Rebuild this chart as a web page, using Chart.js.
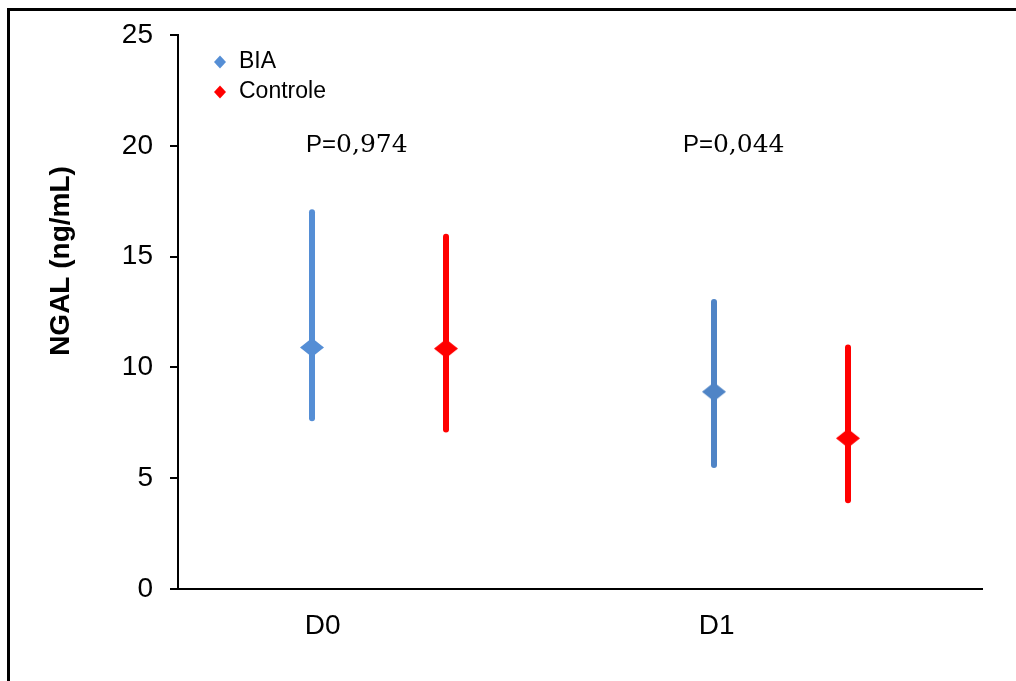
<!DOCTYPE html>
<html><head><meta charset="utf-8">
<script src="https://cdn.jsdelivr.net/npm/chart.js@4.4.0/dist/chart.umd.min.js"></script>
<style>
html,body{margin:0;padding:0;background:#fff;}
#wrap{position:relative;width:1016px;height:681px;overflow:hidden;background:#fff}
#frame{position:absolute;left:7px;top:8px;width:1100px;height:800px;border-left:3px solid #000;border-top:3px solid #000;pointer-events:none}
canvas{position:absolute;left:0;top:0}
</style></head><body>
<div id="wrap"><canvas id="c" width="1016" height="681" style="width:1016px;height:681px"></canvas><div id="frame"></div></div>
<script>
// ---- data ----
const categories = ['D0', 'D1'];
const seriesNames = ['BIA', 'Controle'];
const biaMean = [10.9, 8.9];
const biaLow = [7.7, 5.6];
const biaHigh = [17.0, 12.95];
const ctrlMean = [10.85, 6.8];
const ctrlLow = [7.2, 4.0];
const ctrlHigh = [15.9, 10.9];
const pLabels = ['P=0,974', 'P=0,044'];
const yTickValues = [0, 5, 10, 15, 20, 25];
const yTitle = 'NGAL (ng/mL)';

// ---- styling / layout (not data) ----
const BLUE = ['#558ED5', '#4F84C6'];
const RED = '#FF0000';
const SANS = '"Liberation Sans", Arial, sans-serif';
const SERIF = '"DejaVu Serif", serif';
const groupOffset = 1 / 3;
const labelAt = [0.72, 2.68];       // x-axis label anchor (axis units)
const pAt = [{x: 0.637, y: 19.7}, {x: 2.512, y: 19.7}];

function diamond(color, w, h) {
  const c = document.createElement('canvas');
  c.width = w; c.height = h;
  const g = c.getContext('2d');
  g.fillStyle = color;
  g.beginPath();
  g.moveTo(w / 2, 0); g.lineTo(w, h / 2); g.lineTo(w / 2, h); g.lineTo(0, h / 2);
  g.closePath(); g.fill();
  return c;
}

const center = i => i * 2 + 1;
const biaPts = biaMean.map((v, i) => ({x: center(i) - groupOffset, y: v, lo: biaLow[i], hi: biaHigh[i]}));
const ctrlPts = ctrlMean.map((v, i) => ({x: center(i) + groupOffset, y: v, lo: ctrlLow[i], hi: ctrlHigh[i]}));

const errorBars = {
  id: 'errorBars',
  beforeDatasetsDraw(chart) {
    const {ctx, scales: {x, y}} = chart;
    ctx.save();
    ctx.lineWidth = 6;
    ctx.lineCap = 'round';
    chart.data.datasets.forEach((ds, di) => {
      ds.data.forEach((p, i) => {
        const col = Array.isArray(ds.barColor) ? ds.barColor[i] : ds.barColor;
        ctx.strokeStyle = col;
        const px = x.getPixelForValue(p.x);
        ctx.beginPath();
        ctx.moveTo(px, y.getPixelForValue(p.hi));
        ctx.lineTo(px, y.getPixelForValue(p.lo));
        ctx.stroke();
      });
    });
    ctx.restore();
  }
};

const extras = {
  id: 'extras',
  afterDraw(chart) {
    const {ctx, scales: {x, y}} = chart;
    ctx.save();
    // y-axis title
    ctx.save();
    ctx.translate(61, 261);
    ctx.rotate(-Math.PI / 2);
    ctx.font = 'bold 28px ' + SANS;
    ctx.fillStyle = '#000';
    ctx.textAlign = 'center';
    ctx.textBaseline = 'middle';
    ctx.fillText(yTitle, 0, 0);
    ctx.restore();
    // P labels: "P=" sans + number serif
    pLabels.forEach((t, i) => {
      const px = x.getPixelForValue(pAt[i].x);
      const py = y.getPixelForValue(pAt[i].y);
      const head = t.slice(0, 2), tail = t.slice(2);
      ctx.fillStyle = '#000';
      ctx.textAlign = 'left';
      ctx.textBaseline = 'alphabetic';
      ctx.font = '24px ' + SANS;
      ctx.fillText(head, px, py);
      const w = ctx.measureText(head).width;
      ctx.font = '25px ' + SERIF;
      ctx.fillText(tail, px + w, py);
    });
    // legend
    const items = chart.data.datasets.map((ds, i) => ({label: ds.label, color: ds.legendColor}));
    items.forEach((it, i) => {
      const cy = 62 + i * 30;
      ctx.fillStyle = it.color;
      ctx.beginPath();
      ctx.moveTo(220, cy - 6.5); ctx.lineTo(226, cy); ctx.lineTo(220, cy + 6.5); ctx.lineTo(214, cy);
      ctx.closePath(); ctx.fill();
      ctx.fillStyle = '#000';
      ctx.font = '23px ' + SANS;
      ctx.textAlign = 'left';
      ctx.textBaseline = 'middle';
      ctx.fillText(it.label, 239, cy);
    });
    ctx.restore();
  }
};

new Chart(document.getElementById('c'), {
  type: 'scatter',
  data: {
    datasets: [
      {
        label: seriesNames[0],
        data: biaPts,
        pointStyle: BLUE.map(c => diamond(c, 24, 19)),
        barColor: BLUE,
        legendColor: BLUE[0],
        backgroundColor: BLUE[0],
        borderColor: BLUE[0],
        showLine: false
      },
      {
        label: seriesNames[1],
        data: ctrlPts,
        pointStyle: diamond(RED, 24, 19),
        barColor: RED,
        legendColor: RED,
        backgroundColor: RED,
        borderColor: RED,
        showLine: false
      }
    ]
  },
  options: {
    responsive: false,
    devicePixelRatio: 1,
    animation: false,
    layout: {padding: {left: 0, top: 35, right: 34, bottom: 0}},
    plugins: {legend: {display: false}, tooltip: {enabled: false}},
    scales: {
      x: {
        type: 'linear',
        min: 0, max: 4,
        afterBuildTicks: s => { s.ticks = labelAt.map(v => ({value: v})); },
        afterFit: s => { s.height = 92; },
        ticks: {
          callback: (v, i) => categories[i],
          font: {family: SANS, size: 28},
          color: '#000',
          padding: 20,
          maxRotation: 0
        },
        grid: {display: true, drawOnChartArea: false, drawTicks: false},
        border: {color: '#000', width: 2}
      },
      y: {
        type: 'linear',
        min: 0, max: 25,
        afterBuildTicks: s => { s.ticks = yTickValues.map(v => ({value: v})); },
        afterFit: s => { s.width = 178; },
        title: {display: false, text: yTitle},
        ticks: {
          font: {family: SANS, size: 28},
          color: '#000',
          padding: 17
        },
        grid: {display: true, drawOnChartArea: false, drawTicks: true, tickLength: 8, color: '#000', lineWidth: 2},
        border: {color: '#000', width: 2}
      }
    }
  },
  plugins: [errorBars, extras]
});
</script>
</body></html>
